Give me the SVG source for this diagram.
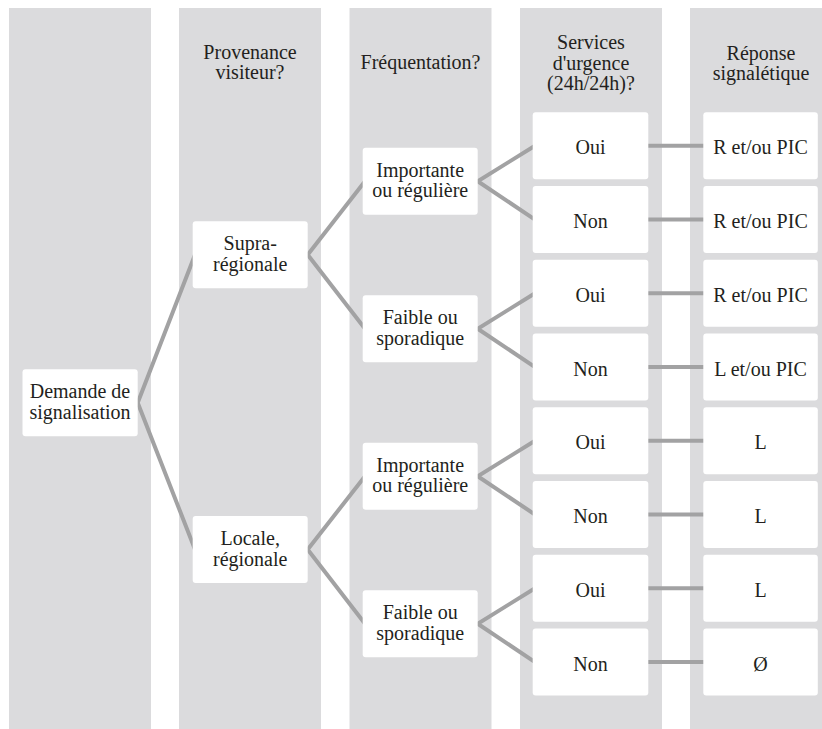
<svg xmlns="http://www.w3.org/2000/svg" width="822" height="729" viewBox="0 0 822 729">
<style>
.col{fill:#dbdbdd}
.box{fill:#ffffff}
.t{font-family:"Liberation Serif","Times New Roman",serif;font-size:20px;fill:#231f20;text-anchor:middle}
.c{fill:none;stroke:#a2a2a3;stroke-width:4;stroke-linejoin:miter}
</style>
<rect width="822" height="729" fill="#ffffff"/>
<g id="columns">
<rect class="col" x="9" y="8" width="142" height="721"/>
<rect class="col" x="179" y="8" width="142" height="721"/>
<rect class="col" x="349.5" y="8" width="142" height="721"/>
<rect class="col" x="520" y="8" width="142" height="721"/>
<rect class="col" x="690" y="8" width="142" height="721"/>
</g>
<g id="headers">
<text class="t" x="250" y="58.5">Provenance</text>
<text class="t" x="250" y="79">visiteur?</text>
<text class="t" x="420.5" y="69">Fréquentation?</text>
<text class="t" x="591" y="49">Services</text>
<text class="t" x="591" y="69.5">d'urgence</text>
<text class="t" x="591" y="90">(24h/24h)?</text>
<text class="t" x="761" y="59.5">Réponse</text>
<text class="t" x="761" y="80">signalétique</text>
</g>
<g id="connectors">
<polyline class="c" points="195,254.7 137.7,402.7 195,549.5"/>
<polyline class="c" points="365,181.2 307.7,254.7 365,328.7"/>
<polyline class="c" points="365,476.2 307.7,549.5 365,623.7"/>
<polyline class="c" points="535,145.8 477.7,181.2 535,219.55"/>
<polyline class="c" points="535,293.3 477.7,328.7 535,367.05"/>
<polyline class="c" points="535,440.8 477.7,476.2 535,514.55"/>
<polyline class="c" points="535,588.3 477.7,623.7 535,662.05"/>
<line class="c" x1="646" y1="145.8" x2="705" y2="145.8"/>
<line class="c" x1="646" y1="219.55" x2="705" y2="219.55"/>
<line class="c" x1="646" y1="293.3" x2="705" y2="293.3"/>
<line class="c" x1="646" y1="367.05" x2="705" y2="367.05"/>
<line class="c" x1="646" y1="440.8" x2="705" y2="440.8"/>
<line class="c" x1="646" y1="514.55" x2="705" y2="514.55"/>
<line class="c" x1="646" y1="588.3" x2="705" y2="588.3"/>
<line class="c" x1="646" y1="662.05" x2="705" y2="662.05"/>
</g>
<g id="n-demande"><rect class="box" x="22.5" y="369.2" width="115.2" height="67" rx="3"/><text class="t" x="80" y="398.2">Demande de</text><text class="t" x="80" y="418.7">signalisation</text></g>
<g id="n-supra"><rect class="box" x="192.7" y="221.2" width="115" height="67" rx="3"/><text class="t" x="250.2" y="250.2">Supra-</text><text class="t" x="250.2" y="270.7">régionale</text></g>
<g id="n-locale"><rect class="box" x="192.7" y="516" width="115" height="67" rx="3"/><text class="t" x="250.2" y="545">Locale,</text><text class="t" x="250.2" y="565.5">régionale</text></g>
<g id="n-imp1"><rect class="box" x="362.7" y="147.7" width="115" height="67" rx="3"/><text class="t" x="420.2" y="176.7">Importante</text><text class="t" x="420.2" y="197.2">ou régulière</text></g>
<g id="n-fai1"><rect class="box" x="362.7" y="295.2" width="115" height="67" rx="3"/><text class="t" x="420.2" y="324.2">Faible ou</text><text class="t" x="420.2" y="344.7">sporadique</text></g>
<g id="n-imp2"><rect class="box" x="362.7" y="442.7" width="115" height="67" rx="3"/><text class="t" x="420.2" y="471.7">Importante</text><text class="t" x="420.2" y="492.2">ou régulière</text></g>
<g id="n-fai2"><rect class="box" x="362.7" y="590.2" width="115" height="67" rx="3"/><text class="t" x="420.2" y="619.2">Faible ou</text><text class="t" x="420.2" y="639.7">sporadique</text></g>
<g id="n-s1"><rect class="box" x="532.7" y="112.3" width="115.6" height="67" rx="3"/><text class="t" x="590.5" y="154.3">Oui</text></g>
<g id="n-s2"><rect class="box" x="532.7" y="186.05" width="115.6" height="67" rx="3"/><text class="t" x="590.5" y="228.05">Non</text></g>
<g id="n-s3"><rect class="box" x="532.7" y="259.8" width="115.6" height="67" rx="3"/><text class="t" x="590.5" y="301.8">Oui</text></g>
<g id="n-s4"><rect class="box" x="532.7" y="333.55" width="115.6" height="67" rx="3"/><text class="t" x="590.5" y="375.55">Non</text></g>
<g id="n-s5"><rect class="box" x="532.7" y="407.3" width="115.6" height="67" rx="3"/><text class="t" x="590.5" y="449.3">Oui</text></g>
<g id="n-s6"><rect class="box" x="532.7" y="481.05" width="115.6" height="67" rx="3"/><text class="t" x="590.5" y="523.05">Non</text></g>
<g id="n-s7"><rect class="box" x="532.7" y="554.8" width="115.6" height="67" rx="3"/><text class="t" x="590.5" y="596.8">Oui</text></g>
<g id="n-s8"><rect class="box" x="532.7" y="628.55" width="115.6" height="67" rx="3"/><text class="t" x="590.5" y="670.55">Non</text></g>
<g id="n-r1"><rect class="box" x="703.3" y="112.3" width="114.5" height="67" rx="3"/><text class="t" x="760.5" y="154.3">R et/ou PIC</text></g>
<g id="n-r2"><rect class="box" x="703.3" y="186.05" width="114.5" height="67" rx="3"/><text class="t" x="760.5" y="228.05">R et/ou PIC</text></g>
<g id="n-r3"><rect class="box" x="703.3" y="259.8" width="114.5" height="67" rx="3"/><text class="t" x="760.5" y="301.8">R et/ou PIC</text></g>
<g id="n-r4"><rect class="box" x="703.3" y="333.55" width="114.5" height="67" rx="3"/><text class="t" x="760.5" y="375.55">L et/ou PIC</text></g>
<g id="n-r5"><rect class="box" x="703.3" y="407.3" width="114.5" height="67" rx="3"/><text class="t" x="760.5" y="449.3">L</text></g>
<g id="n-r6"><rect class="box" x="703.3" y="481.05" width="114.5" height="67" rx="3"/><text class="t" x="760.5" y="523.05">L</text></g>
<g id="n-r7"><rect class="box" x="703.3" y="554.8" width="114.5" height="67" rx="3"/><text class="t" x="760.5" y="596.8">L</text></g>
<g id="n-r8"><rect class="box" x="703.3" y="628.55" width="114.5" height="67" rx="3"/><text class="t" x="760.5" y="670.55">Ø</text></g>
</svg>
